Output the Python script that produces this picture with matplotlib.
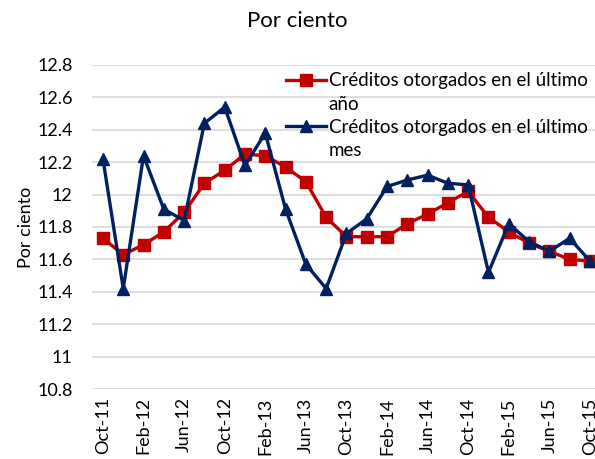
import numpy as np
import matplotlib.pyplot as plt
from matplotlib.lines import Line2D
from matplotlib.ticker import FuncFormatter

plt.rcParams['font.family'] = ['Lato', 'DejaVu Sans']

meses = ['Oct-11', 'Dec-11', 'Feb-12', 'Apr-12', 'Jun-12', 'Aug-12', 'Oct-12', 'Dec-12',
         'Feb-13', 'Apr-13', 'Jun-13', 'Aug-13', 'Oct-13', 'Dec-13', 'Feb-14', 'Apr-14',
         'Jun-14', 'Aug-14', 'Oct-14', 'Dec-14', 'Feb-15', 'Apr-15', 'Jun-15', 'Aug-15',
         'Oct-15']

# tasas promedio (por ciento)
ultimo_anio = [11.73, 11.63, 11.69, 11.77, 11.89, 12.07, 12.15, 12.25,
               12.24, 12.17, 12.08, 11.86, 11.74, 11.74, 11.74, 11.82,
               11.88, 11.95, 12.02, 11.86, 11.77, 11.70, 11.65, 11.60, 11.59]
ultimo_mes = [12.22, 11.42, 12.24, 11.91, 11.84, 12.44, 12.54, 12.18,
              12.38, 11.91, 11.57, 11.42, 11.76, 11.85, 12.05, 12.09,
              12.12, 12.07, 12.06, 11.52, 11.82, 11.71, 11.65, 11.73, 11.59]

x = np.arange(len(meses))

fig = plt.figure(figsize=(5.95, 4.59), dpi=100)
ax = fig.add_axes([0.1546, 0.1525, 0.8454, 0.7059])

l1, = ax.plot(x, ultimo_anio, color='#C00000', lw=2.4, marker='s', ms=8)
l2, = ax.plot(x, ultimo_mes, color='#002060', lw=2.4, marker='^', ms=9)

ax.set_xlim(-0.54, 24.25)
ax.set_ylim(10.8, 12.8)
ax.set_yticks(np.arange(10.8, 12.81, 0.2))
ax.yaxis.set_major_formatter(FuncFormatter(lambda v, p: '%g' % round(v, 1)))
ax.set_xticks(x[::2])
ax.set_xticklabels(meses[::2], rotation=90)
ax.tick_params(length=0, labelsize=13)
ax.tick_params(axis='x', pad=6)
ax.tick_params(axis='y', pad=14)
ax.grid(axis='y', color='#d9d9d9', lw=1.2)
ax.set_axisbelow(True)
for s in ax.spines.values():
    s.set_visible(False)

ax.set_ylabel('Por ciento', fontsize=13, labelpad=2)
fig.text(0.5, 0.955, 'Por ciento', ha='center', va='center', fontsize=16)

# leyenda en dos renglones, con el símbolo en el primero
vacio = Line2D([], [], alpha=0)
leg = ax.legend([l1, vacio, l2, vacio],
                ['Créditos otorgados en el último', 'año',
                 'Créditos otorgados en el último', 'mes'],
                loc='upper right', bbox_to_anchor=(1.0, 1.0), frameon=False,
                fontsize=13.5, handlelength=2.1, handletextpad=0.15,
                labelspacing=0.33, borderaxespad=0)

fig.savefig('out.png', dpi=100)
